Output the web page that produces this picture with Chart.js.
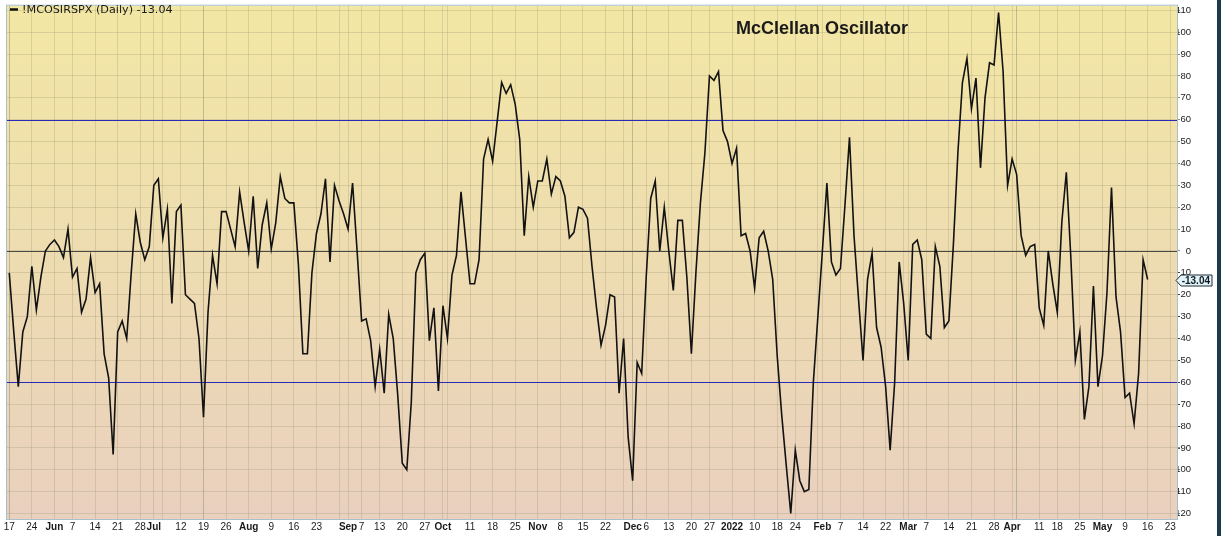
<!DOCTYPE html>
<html>
<head>
<meta charset="utf-8">
<title>McClellan Oscillator</title>
<script src="https://cdn.jsdelivr.net/npm/chart.js@4.4.1/dist/chart.umd.min.js"></script>
<style>
  html, body { margin:0; padding:0; background:#1d3a4b; }
  #wrap { width:1217px; height:536px; background:#fff; }
  canvas { display:block; }
</style>
</head>
<body>
<div id="wrap"><canvas id="chart" width="1217" height="536"></canvas></div>
<script>
// ===== data =====
const symbol = '!MCOSIRSPX (Daily)';
const title = 'McClellan Oscillator';
const firstDay = '2021-05-17';
const lastDay = '2022-05-24';
const holidays = ['2021-05-31','2021-07-05','2021-09-06','2021-11-25','2021-12-24','2022-01-17','2022-02-21','2022-04-15'];

// one value per trading day, May 17 2021 -> May 16 2022
const mcoValues = [
  -10,-37,-62,-37,-30,-7,-27,-12,0,3,            // May
  5,2,-3,10,-12,-8,-28,-22,-3,-19,-15,-47,-58,-93,-37,-32,-40,-10,17,4,-4,2,   // Jun
  30,33,6,19,-24,18,21,-20,-22,-24,-40,-76,-28,-2,-15,18,18,10,2,27,13,        // Jul
  0,25,-8,12,22,1,13,34,24,22,22,-6,-47,-47,-10,8,17,33,-5,30,23,17,           // Aug
  10,31,0,-32,-31,-41,-62,-45,-65,-29,-40,-66,-97,-100,-69,-10,-4,-1,-41,-26,-64, // Sep
  -25,-40,-11,-2,27,6,-15,-15,-4,42,51,41,59,77,72,76,67,51,7,34,20,           // Oct
  32,32,42,26,34,32,25,6,8.5,20,19,15,-7,-26,-43,-34,-20,-21,-65,-40,-85,      // Nov
  -105,-51,-56,-12,24,32,0,20,0,-18,14,14,-12,-47,-10,22,45,80,78,82,55,50,    // Dec
  40,47,7,8,0,-17,6,9,0,-13,-48,-75,-98,-120,-91,-105,-110,-109,-60,-30,       // Jan
  0,31,-5,-11,-8,21,52,7,-22,-50,-13,-1,-35,-44,-62,-91,-60,-5,-24,            // Feb
  -50,3,5,-4,-38,-40,2,-7,-35,-32,3,45,77,88,65,79,38,70,86,85,109,82,30,      // Mar
  42,35,7,-2,2,3,-26,-34,0,-15,-28,13,36,-3,-50,-37,-77,-62,-16,-62,           // Apr
  -48,-19,29,-21,-37,-67,-65,-79,-56,-4,-13.04                                 // May
];

const tickDates = ['2021-05-17','2021-05-24','2021-06-01','2021-06-07','2021-06-14','2021-06-21','2021-06-28','2021-07-01','2021-07-12','2021-07-19',
  '2021-07-26','2021-08-02','2021-08-09','2021-08-16','2021-08-23','2021-09-01','2021-09-07','2021-09-13','2021-09-20','2021-09-27',
  '2021-10-01','2021-10-11','2021-10-18','2021-10-25','2021-11-01','2021-11-08','2021-11-15','2021-11-22','2021-12-01','2021-12-06',
  '2021-12-13','2021-12-20','2021-12-27','2022-01-03','2022-01-10','2022-01-18','2022-01-24','2022-02-01','2022-02-07','2022-02-14',
  '2022-02-22','2022-03-01','2022-03-07','2022-03-14','2022-03-21','2022-03-28','2022-04-01','2022-04-11','2022-04-18','2022-04-25',
  '2022-05-02','2022-05-09','2022-05-16','2022-05-23'];
const tickText = ['17','24','Jun','7','14','21','28','Jul','12','19',
  '26','Aug','9','16','23','Sep','7','13','20','27',
  'Oct','11','18','25','Nov','8','15','22','Dec','6',
  '13','20','27','2022','10','18','24','Feb','7','14',
  '22','Mar','7','14','21','28','Apr','11','18','25',
  'May','9','16','23'];

const yTicks = [-120,-110,-100,-90,-80,-70,-60,-50,-40,-30,-20,-10,0,10,20,30,40,50,60,70,80,90,100,110];
const signalLevels = [60, -60];

// ===== trading calendar =====
function tradingDays(from, to){
  const out = [];
  let t = Date.parse(from + 'T00:00:00Z');
  const end = Date.parse(to + 'T00:00:00Z');
  while(t <= end){
    const d = new Date(t);
    const s = d.toISOString().slice(0,10);
    const wd = d.getUTCDay();
    if(wd !== 0 && wd !== 6 && !holidays.includes(s)) out.push(s);
    t += 86400000;
  }
  return out;
}
const days = tradingDays(firstDay, lastDay);

// week starts and month starts get a grid line
const weekStart = days.map((s,i)=>{
  if(i === 0) return true;
  const a = new Date(days[i-1] + 'T00:00:00Z'), b = new Date(s + 'T00:00:00Z');
  return b.getUTCDay() <= a.getUTCDay() || (b - a) > 4*86400000;
});
const monthStart = days.map((s,i)=> i === 0 || s.slice(0,7) !== days[i-1].slice(0,7));
function isBold(t){ return t === '2022' || isNaN(Number(t)); }

const FONT = '"Liberation Sans", Arial, sans-serif';

// ===== plugins =====
const backdrop = {
  id:'backdrop',
  beforeDraw(chart){
    const {ctx, chartArea:a} = chart;
    const g = ctx.createLinearGradient(0, a.top, 0, a.bottom);
    g.addColorStop(0, '#f3e7a4');
    g.addColorStop(0.5, '#eedcb1');
    g.addColorStop(1, '#e9d0bf');
    ctx.save();
    ctx.fillStyle = g;
    ctx.fillRect(a.left, a.top, a.right - a.left, a.bottom - a.top);
    ctx.restore();
  },
  beforeDatasetsDraw(chart){
    // zero line and the +/-60 signal lines
    const {ctx, chartArea:a} = chart;
    const y = chart.scales.y;
    ctx.save();
    ctx.lineWidth = 1.2;
    ctx.strokeStyle = '#4a4a42';
    let py = Math.round(y.getPixelForValue(0)) + 0.5;
    ctx.beginPath(); ctx.moveTo(a.left, py); ctx.lineTo(a.right, py); ctx.stroke();
    ctx.strokeStyle = '#2a2ab8';
    signalLevels.forEach(v=>{
      py = Math.round(y.getPixelForValue(v)) + 0.5;
      ctx.beginPath(); ctx.moveTo(a.left, py); ctx.lineTo(a.right, py); ctx.stroke();
    });
    ctx.restore();
  },
  afterDraw(chart){
    const {ctx, chartArea:a} = chart;
    const x = chart.scales.x, y = chart.scales.y;
    ctx.save();
    // frame
    ctx.strokeStyle = '#a8c0cc';
    ctx.lineWidth = 1;
    ctx.strokeRect(a.left - 0.5, a.top - 0.5, a.right - a.left + 1, a.bottom - a.top + 1);

    // bold month / year labels
    ctx.fillStyle = '#1a1a1a';
    ctx.font = 'bold 10px ' + FONT;
    ctx.textAlign = 'center';
    ctx.textBaseline = 'middle';
    tickText.forEach((t,k)=>{
      if(!isBold(t)) return;
      const i = days.indexOf(tickDates[k]);
      ctx.fillText(t, x.getPixelForValue(i), x.top + 8);
    });

    // legend line
    ctx.strokeStyle = '#111';
    ctx.lineWidth = 2.5;
    ctx.beginPath(); ctx.moveTo(10, 9.5); ctx.lineTo(18, 9.5); ctx.stroke();
    const last = mcoValues[mcoValues.length - 1];
    ctx.font = '11.2px "DejaVu Sans", Verdana, sans-serif';
    ctx.textAlign = 'left';
    ctx.fillText(symbol + ' ' + last.toFixed(2), 22, 10);

    // title
    ctx.font = 'bold 18px ' + FONT;
    ctx.textAlign = 'center';
    ctx.fillText(title, 822, 29);

    // last value tag on the axis
    const ty = Math.round(y.getPixelForValue(last)) + 0.5;
    const x0 = a.right - 1, x1 = x0 + 5, x2 = x0 + 36, h = 5.5;
    ctx.beginPath();
    ctx.moveTo(x0, ty); ctx.lineTo(x1, ty - h); ctx.lineTo(x2, ty - h);
    ctx.lineTo(x2, ty + h); ctx.lineTo(x1, ty + h); ctx.closePath();
    ctx.fillStyle = '#e4f4f7';
    ctx.fill();
    ctx.strokeStyle = '#1c2c3a';
    ctx.lineWidth = 1;
    ctx.stroke();
    ctx.fillStyle = '#0d1a26';
    ctx.font = 'bold 10px ' + FONT;
    ctx.textAlign = 'right';
    ctx.fillText(last.toFixed(2), x2 - 2, ty + 0.5);
    ctx.restore();
  }
};

// ===== chart =====
new Chart(document.getElementById('chart'), {
  type:'line',
  data:{
    labels: days,
    datasets:[{
      data: mcoValues,
      borderColor:'#121212',
      borderWidth:1.6,
      pointRadius:0,
      tension:0,
      fill:false
    }]
  },
  options:{
    responsive:false,
    animation:false,
    layout:{ padding:{ left:7, top:3, right:26, bottom:1 } },
    plugins:{ legend:{ display:false }, tooltip:{ enabled:false } },
    scales:{
      x:{
        offset:true,
        border:{ display:false },
        grid:{
          offset:false,
          drawTicks:false,
          lineWidth:1,
          color: c => monthStart[c.index] ? 'rgba(120,130,95,0.42)' : 'rgba(140,140,105,0.25)'
        },
        ticks:{
          autoSkip:false,
          maxRotation:0,
          minRotation:0,
          padding:2,
          color:'#1a1a1a',
          font:{ family:FONT, size:10 },
          callback: (v, i) => {
            const k = tickDates.indexOf(days[i]);
            if(k >= 0) return isBold(tickText[k]) ? '' : tickText[k];
            if(weekStart[i] || monthStart[i]) return '';
            return null;
          }
        }
      },
      y:{
        position:'right',
        min:-122.5,
        max:112.1,
        afterBuildTicks: s => { s.ticks = yTicks.map(v => ({ value:v })); },
        afterFit: s => { s.width = 14; },
        border:{ display:false },
        grid:{
          tickLength:3,
          tickColor:'#8a8a8a',
          color:'rgba(140,140,105,0.25)',
          lineWidth:1
        },
        ticks:{
          crossAlign:'far',
          padding:0,
          color:'#1a1a1a',
          font:{ family:FONT, size:9.5 }
        }
      }
    }
  },
  plugins:[backdrop]
});
</script>
</body>
</html>
